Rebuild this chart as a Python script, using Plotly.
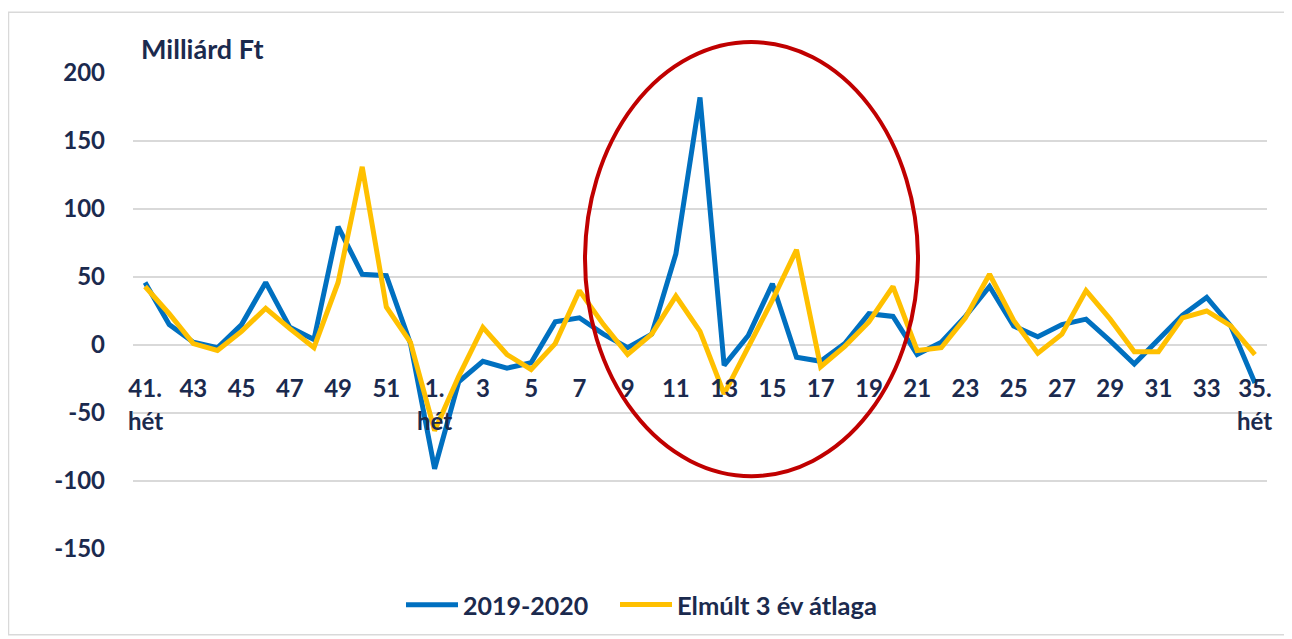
import plotly.graph_objects as go

weeks = [41, 42, 43, 44, 45, 46, 47, 48, 49, 50, 51, 52] + list(range(1, 36))
series_2019_2020 = [46, 15, 2, -2, 15, 46, 13, 4, 87, 52, 51, 1,
                    -91, -27, -12, -17, -13, 17, 20, 8, -2, 8, 67, 182,
                    -15, 7, 45, -9, -12, 1, 23, 21, -7, 2, 21, 43,
                    14, 6, 15, 19, 3, -14, 4, 22, 35, 14, -28]
series_avg3 = [43, 23, 1, -4, 10, 27, 12, -2, 46, 131, 28, 2,
               -63, -23, 13, -7, -18, 1, 40, 15, -7, 8, 36, 10,
               -36, -2, 33, 70, -16, -1, 17, 43, -4, -2, 20, 52,
               18, -6, 8, 40, 19, -5, -5, 20, 25, 14, -7]
name_a = "2019-2020"
name_b = "Elmúlt 3 év átlaga"
unit_label = "Milliárd Ft"
week_word = "hét"
y_ticks = [-150, -100, -50, 0, 50, 100, 150, 200]

x_idx = list(range(len(weeks)))
tick_vals = x_idx[::2]
marked = [i for i in tick_vals if i == 0 or weeks[i] == 1 or i == len(weeks) - 1]
tick_text = [f"{weeks[i]}." if i in marked else str(weeks[i]) for i in tick_vals]

navy = "#1B2A4E"
font_family = "Lato, 'Open Sans', sans-serif"

fig = go.Figure()
fig.add_trace(go.Scatter(x=x_idx, y=series_2019_2020, mode="lines", name=name_a,
                         line=dict(color="#0070C0", width=5), legend="legend"))
fig.add_trace(go.Scatter(x=x_idx, y=series_avg3, mode="lines", name=name_b,
                         line=dict(color="#FFC000", width=5), legend="legend2"))

OFF = 8  # page body margin
W, H = 1284, 631
L, T = 133 - OFF, 73 - OFF
R = W - (1267 - OFF)
B = H - (550 - OFF)
pw, ph = W - L - R, H - T - B

def px2x(px):
    return (px - OFF - L) / pw

def py2y(py):
    return (H - B - (py - OFF)) / ph

annotations = [dict(text=unit_label, xref="paper", yref="paper",
                    x=px2x(139), y=py2y(48), xanchor="left", yanchor="middle",
                    showarrow=False,
                    font=dict(size=27, family=font_family, color=navy, weight="bold"))]
for i in marked:
    annotations.append(dict(text=week_word, xref="x", yref="paper",
                            x=i, y=py2y(421), xanchor="center", yanchor="middle",
                            showarrow=False,
                            font=dict(size=24, family=font_family, color=navy, weight="bold")))

legend_font = dict(size=25, family=font_family, color=navy, weight="bold")

fig.update_layout(
    width=W, height=H,
    margin=dict(l=L, r=R, t=T, b=B),
    paper_bgcolor="white", plot_bgcolor="white",
    font=dict(family=font_family, color=navy, size=24),
    showlegend=True,
    legend=dict(orientation="h", x=px2x(401), xanchor="left",
                y=py2y(605), yanchor="middle", font=legend_font,
                itemwidth=52, bgcolor="rgba(0,0,0,0)"),
    legend2=dict(orientation="h", x=px2x(615), xanchor="left",
                 y=py2y(605), yanchor="middle",
                 font=dict(size=25.5, family=font_family, color=navy, weight="bold"),
                 itemwidth=52, bgcolor="rgba(0,0,0,0)"),
    xaxis=dict(range=[-0.5, len(weeks) - 0.5], tickmode="array",
               tickvals=tick_vals, ticktext=tick_text,
               showgrid=False, zeroline=False, showline=False,
               anchor="free", position=150 / 350,
               ticks="outside", ticklen=0, ticklabelstandoff=22,
               tickfont=dict(size=24, family=font_family, color=navy, weight="bold")),
    yaxis=dict(range=[-150, 200], tickmode="array", tickvals=y_ticks,
               ticktext=[str(v) for v in y_ticks],
               showgrid=True, gridcolor="#D9D9D9", gridwidth=2,
               zeroline=True, zerolinecolor="#D9D9D9", zerolinewidth=2,
               showline=False, ticks="", ticklabelstandoff=27,
               tickfont=dict(size=24, family=font_family, color=navy, weight="bold")),
    annotations=annotations,
    shapes=[
        dict(type="circle", xref="paper", yref="paper",
             x0=px2x(585), x1=px2x(918), y0=py2y(477), y1=py2y(42),
             line=dict(color="#C00000", width=4)),
        dict(type="rect", xref="paper", yref="paper",
             x0=px2x(8.5), x1=px2x(1285), y0=py2y(636), y1=py2y(12),
             line=dict(color="#D9D9D9", width=1.5), layer="below"),
    ],
)

fig.write_html("out.html")
